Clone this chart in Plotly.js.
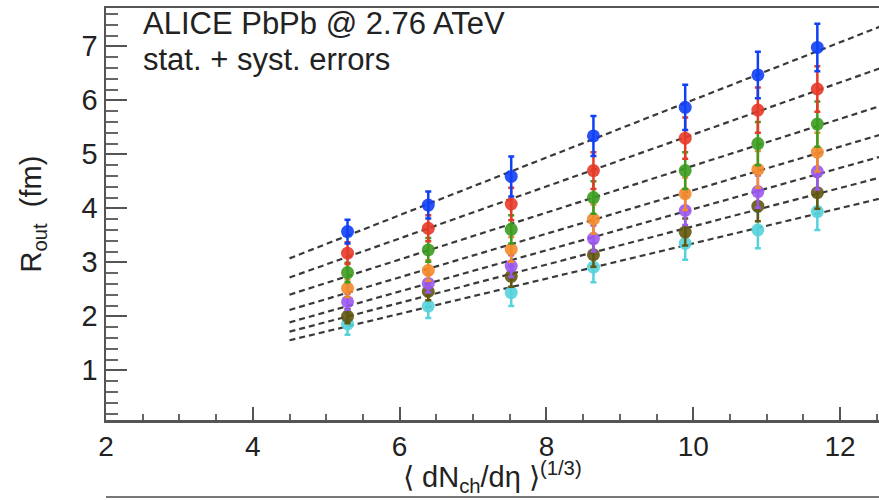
<!DOCTYPE html>
<html>
<head>
<meta charset="utf-8">
<script src="https://cdn.plot.ly/plotly-3.0.1.min.js"></script>
<style>html,body{margin:0;padding:0;background:#fff;}#chart{width:879px;height:500px;}</style>
</head>
<body>
<div id="chart"></div>
<script>
// centrality bins: <dN_ch/deta>^(1/3)
const xVals = [5.29, 6.39, 7.52, 8.64, 9.89, 10.88, 11.69];

// R_out (fm) for each kT bin (series)
const seriesNames = ["kT bin 1", "kT bin 2", "kT bin 3", "kT bin 4", "kT bin 5", "kT bin 6", "kT bin 7"];
const seriesColors = ["#1040f5", "#e63a28", "#3c9c20", "#f28a2c", "#9a58f0", "#62560e", "#55d2dc"];

const rBlue   = [3.57, 4.06, 4.59, 5.34, 5.87, 6.47, 6.98];
const rRed    = [3.17, 3.63, 4.08, 4.70, 5.30, 5.82, 6.21];
const rGreen  = [2.81, 3.23, 3.61, 4.20, 4.70, 5.20, 5.56];
const rOrange = [2.52, 2.85, 3.24, 3.80, 4.27, 4.72, 5.04];
const rPurple = [2.27, 2.61, 2.93, 3.44, 3.96, 4.31, 4.68];
const rOlive  = [2.00, 2.46, 2.74, 3.14, 3.56, 4.04, 4.29];
const rCyan   = [1.86, 2.19, 2.44, 2.91, 3.35, 3.60, 3.94];

// stat. + syst. errors
const eBlue   = [0.22, 0.25, 0.37, 0.37, 0.42, 0.43, 0.44];
const eRed    = [0.20, 0.24, 0.30, 0.34, 0.38, 0.42, 0.42];
const eGreen  = [0.18, 0.22, 0.26, 0.30, 0.34, 0.40, 0.42];
const eOrange = [0.16, 0.19, 0.23, 0.27, 0.30, 0.34, 0.36];
const ePurple = [0.15, 0.17, 0.20, 0.24, 0.27, 0.30, 0.33];
const eOlive  = [0.13, 0.16, 0.19, 0.22, 0.25, 0.28, 0.30];
const eCyan   = [0.20, 0.22, 0.25, 0.28, 0.30, 0.34, 0.34];

// fit range
const fitRange = [4.5, 12.6];

const yTickVals = [1, 2, 3, 4, 5, 6, 7];
const xTickVals = [2, 4, 6, 8, 10, 12];

const rSeries = [rBlue, rRed, rGreen, rOrange, rPurple, rOlive, rCyan];
const eSeries = [eBlue, eRed, eGreen, eOrange, ePurple, eOlive, eCyan];

function linFit(xs, ys) {
  const n = xs.length;
  let mx = 0, my = 0;
  for (let i = 0; i < n; i++) { mx += xs[i]; my += ys[i]; }
  mx /= n; my /= n;
  let sxy = 0, sxx = 0;
  for (let i = 0; i < n; i++) { sxy += (xs[i]-mx)*(ys[i]-my); sxx += (xs[i]-mx)*(xs[i]-mx); }
  const b = sxy / sxx;
  return {a: my - b*mx, b: b};
}

const font = "Liberation Sans, Arial, Helvetica, sans-serif";
const traces = [];
// fit lines
rSeries.forEach((ys) => {
  const f = linFit(xVals, ys);
  traces.push({
    x: fitRange, y: fitRange.map(v => f.a + f.b*v),
    mode: "lines", type: "scatter", showlegend: false, hoverinfo: "skip",
    line: {color: "#3a3a3a", width: 2.2, dash: "6px,4px"}
  });
});
// data points
rSeries.slice().reverse().forEach((ys, k) => {
  const i = rSeries.length - 1 - k;
  traces.push({
    x: xVals, y: ys, name: seriesNames[i],
    mode: "markers", type: "scatter", showlegend: false,
    marker: {color: seriesColors[i], size: 13, opacity: 0.9},
    error_y: {type: "data", array: eSeries[i], visible: true, color: seriesColors[i], thickness: 2.5, width: 3}
  });
});

const layout = {
  width: 879, height: 500,
  margin: {l: 106, r: 0, t: 8, b: 80},
  paper_bgcolor: "#ffffff", plot_bgcolor: "#ffffff",
  font: {family: font, color: "#222"},
  showlegend: false,
  xaxis: {
    range: [2, 12.53], tickvals: xTickVals, ticktext: xTickVals.map(String),
    ticks: "inside", ticklen: 13, tickwidth: 2, tickcolor: "#555",
    minor: {dtick: 0.5, ticks: "inside", ticklen: 6, tickwidth: 2, tickcolor: "#666"},
    showline: true, linecolor: "#555", linewidth: 2.5, mirror: true,
    showgrid: false, zeroline: false,
    tickfont: {size: 28, family: font, color: "#222"}
  },
  yaxis: {
    range: [0.08, 7.71], tickvals: yTickVals, ticktext: yTickVals.map(String),
    ticks: "inside", ticklen: 21, tickwidth: 2, tickcolor: "#555",
    minor: {dtick: 0.2, ticks: "inside", ticklen: 12, tickwidth: 2, tickcolor: "#666"},
    showline: true, linecolor: "#555", linewidth: 2.5,
    showgrid: false, zeroline: false,
    tickfont: {size: 29, family: font, color: "#222"},
    title: {text: "R<sub>out</sub>  (fm)", font: {size: 29, family: font, color: "#222"}, standoff: 32}
  },
  annotations: [
    {xref: "paper", yref: "paper", x: 0.045, y: 1, xanchor: "left", yanchor: "top", yshift: 4,
     text: "ALICE PbPb @ 2.76 ATeV", showarrow: false, font: {size: 31, family: font, color: "#222"}},
    {xref: "paper", yref: "paper", x: 0.045, y: 0.913, xanchor: "left", yanchor: "top", yshift: 4,
     text: "stat. + syst. errors", showarrow: false, font: {size: 31, family: font, color: "#222"}},
    {xref: "paper", yref: "paper", x: 0.5, y: 0, xanchor: "center", yanchor: "top", yshift: -35,
     text: "\u27E8 dN<sub>ch</sub>/d\u03B7 \u27E9<sup>(1/3)</sup>", showarrow: false,
     font: {size: 29, family: font, color: "#222"}}
  ],
  shapes: [
    {type: "line", xref: "paper", yref: "paper", x0: 0, x1: 1, y0: -0.187, y1: -0.187, line: {color: "#777", width: 2}}
  ]
};

Plotly.newPlot("chart", traces, layout, {staticPlot: true, displayModeBar: false});
</script>
</body>
</html>
